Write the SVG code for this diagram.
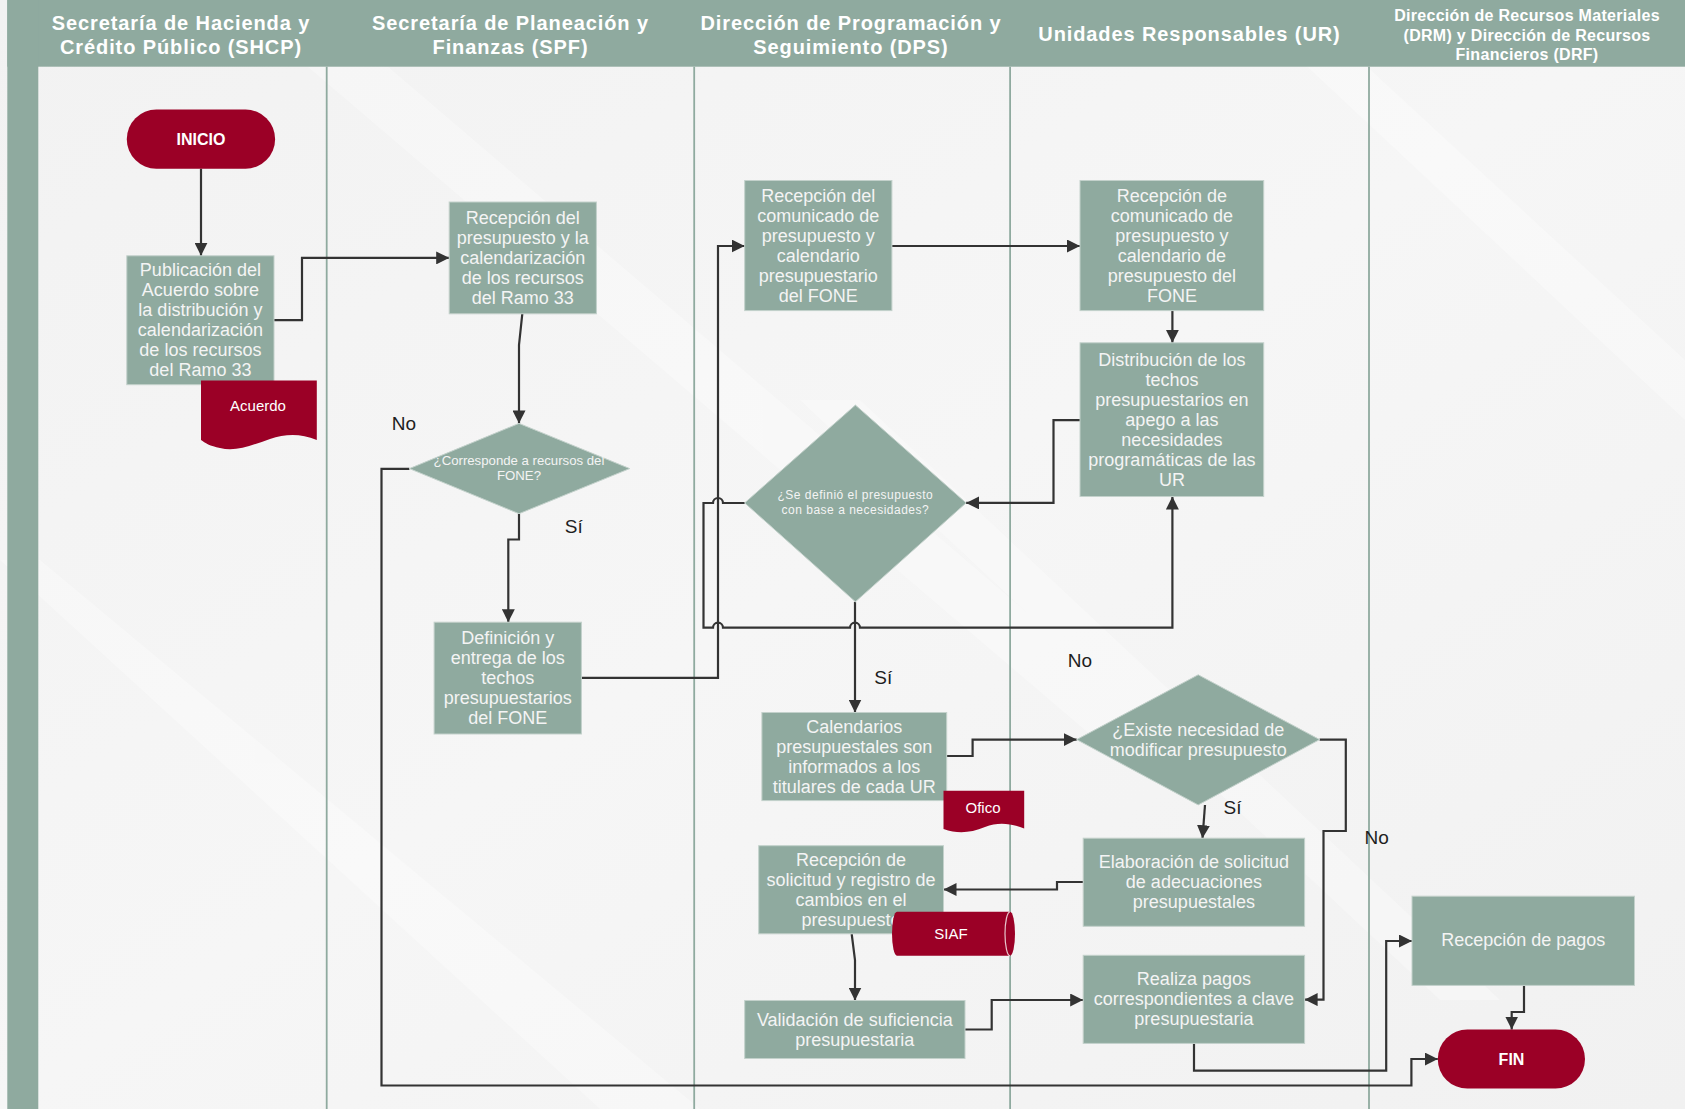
<svg xmlns="http://www.w3.org/2000/svg" width="1685" height="1109" viewBox="0 0 1685 1109">
<defs>
<marker id="ah" markerWidth="13" markerHeight="13" refX="13" refY="6.5" orient="auto" markerUnits="userSpaceOnUse"><path d="M0,0 L13,6.5 L0,13 Z" fill="#333"/></marker>
<linearGradient id="bg" x1="0" y1="0" x2="1" y2="1">
<stop offset="0" stop-color="#F2F2F2"/><stop offset="0.5" stop-color="#F6F6F6"/><stop offset="1" stop-color="#F1F1F1"/>
</linearGradient>
</defs>
<style>
.proc{fill:#8FAA9F;stroke:#C3D1CB;stroke-width:1}
.red{fill:#9B0026}
.t{font-family:"Liberation Sans",Arial,sans-serif;font-size:18px;fill:#F4F4F4;text-anchor:middle;dominant-baseline:central}
.ts{font-family:"Liberation Sans",Arial,sans-serif;font-size:12px;fill:#F4F4F4;text-anchor:middle;dominant-baseline:central}
.tw{font-family:"Liberation Sans",Arial,sans-serif;font-size:15px;fill:#FFFFFF;text-anchor:middle;dominant-baseline:central}
.tb{font-family:"Liberation Sans",Arial,sans-serif;font-size:16px;font-weight:bold;fill:#FFFFFF;text-anchor:middle;dominant-baseline:central}
.hd{font-family:"Liberation Sans",Arial,sans-serif;font-weight:bold;font-size:20px;fill:#FFFFFF;text-anchor:middle;dominant-baseline:central;letter-spacing:0.9px}
.hd5{font-family:"Liberation Sans",Arial,sans-serif;font-weight:bold;font-size:16px;fill:#FFFFFF;text-anchor:middle;dominant-baseline:central;letter-spacing:0.3px}
.lbl{font-family:"Liberation Sans",Arial,sans-serif;font-size:19px;fill:#1E1E1E;text-anchor:middle;dominant-baseline:central}
.conn{fill:none;stroke:#333;stroke-width:2.2}
.lane{stroke:#8FAA9F;stroke-width:1.8}
</style>

<!-- background -->
<rect x="0" y="0" width="1685" height="1109" fill="url(#bg)"/>
<g opacity="0.3" fill="#FFFFFF">
<polygon points="0,560 40,560 700,1109 600,1109"/>
<polygon points="300,60 380,60 1200,760 1120,760"/>
<polygon points="800,400 860,400 1500,1000 1440,1000"/>
<polygon points="1300,60 1360,60 1685,360 1685,420"/>
</g>

<!-- header and lanes -->
<g id="lanes">
<rect x="7.3" y="0" width="1677.7" height="66.7" fill="#8FAA9F"/>
<rect x="7.3" y="0" width="31" height="1109" fill="#8FAA9F"/>
<line class="lane" x1="326.7" y1="66.7" x2="326.7" y2="1109"/>
<line class="lane" x1="694.2" y1="66.7" x2="694.2" y2="1109"/>
<line class="lane" x1="1010.1" y1="66.7" x2="1010.1" y2="1109"/>
<line class="lane" x1="1369" y1="66.7" x2="1369" y2="1109"/>
<text class="hd" x="181" y="22.6">Secretaría de Hacienda y</text>
<text class="hd" x="181" y="47.3">Crédito Público (SHCP)</text>
<text class="hd" x="510.5" y="22.6">Secretaría de Planeación y</text>
<text class="hd" x="510.5" y="47.3">Finanzas (SPF)</text>
<text class="hd" x="851" y="22.6">Dirección de Programación y</text>
<text class="hd" x="851" y="47.3">Seguimiento (DPS)</text>
<text class="hd" x="1189.5" y="34.4">Unidades Responsables (UR)</text>
<text class="hd5" x="1527" y="15.5">Dirección de Recursos Materiales</text>
<text class="hd5" x="1527" y="35">(DRM) y Dirección de Recursos</text>
<text class="hd5" x="1527" y="54.5">Financieros (DRF)</text>
</g>

<!-- connectors -->
<g id="connectors">
<path class="conn" marker-end="url(#ah)" d="M201,168.7 V255.8"/>
<path class="conn" marker-end="url(#ah)" d="M274,320.2 H302 V257.9 H449.2"/>
<path class="conn" marker-end="url(#ah)" d="M522.3,313.8 L519,345 V423.4"/>
<path class="conn" marker-end="url(#ah)" d="M519,513.7 V539.5 H508.3 V622.2"/>
<path class="conn" marker-end="url(#ah)" d="M409.4,468.8 H381.5 V1085.5 H1411.4 V1059 H1437.8"/>
<path class="conn" marker-end="url(#ah)" d="M581.4,677.8 H718 V246 H744.7"/>
<path class="conn" marker-end="url(#ah)" d="M744.7,503 H723 A5,5 0 0 0 713,503 H703.5 V627.7 H713 A5,5 0 0 1 723,627.7 H850 A5,5 0 0 1 860,627.7 H1172.4 V496.5"/>
<path class="conn" marker-end="url(#ah)" d="M855,601.8 V712.5"/>
<path class="conn" marker-end="url(#ah)" d="M891.9,246 H1080"/>
<path class="conn" marker-end="url(#ah)" d="M1172.4,310.6 V342.8"/>
<path class="conn" marker-end="url(#ah)" d="M1080,420.2 H1053.5 V502.9 H966.1"/>
<path class="conn" marker-end="url(#ah)" d="M946.7,756 H972.6 V739.6 H1076.7"/>
<path class="conn" marker-end="url(#ah)" d="M1205,805 L1202.5,838.2"/>
<path class="conn" marker-end="url(#ah)" d="M1319.6,739.6 H1345.8 V831 H1323.5 V999.6 H1304.6"/>
<path class="conn" marker-end="url(#ah)" d="M1083.2,882 H1057 V889.5 H943.5"/>
<path class="conn" marker-end="url(#ah)" d="M851.7,934 L855,960 V1000.5"/>
<path class="conn" marker-end="url(#ah)" d="M965,1029.5 H991.7 V1000 H1083.2"/>
<path class="conn" marker-end="url(#ah)" d="M1194,1043.4 V1070.7 H1386.2 V941 H1412"/>
<path class="conn" marker-end="url(#ah)" d="M1524,985.4 V1012 H1511.7 V1029.5"/>
</g>

<!-- labels -->
<g id="labels">
<text class="lbl" x="404" y="423.4">No</text>
<text class="lbl" x="573.8" y="526.6">Sí</text>
<text class="lbl" x="883.3" y="677">Sí</text>
<text class="lbl" x="1080" y="660.9">No</text>
<text class="lbl" x="1232.6" y="807">Sí</text>
<text class="lbl" x="1376.6" y="837.1">No</text>
</g>

<g id="inicio">
<rect class="red" x="126.8" y="109.6" width="148.3" height="59.1" rx="29.5"/>
<text class="tb" x="201" y="139.2">INICIO</text>
</g>

<g id="publicacion">
<rect class="proc" x="126.8" y="255.8" width="147.2" height="128.9"/>
<text class="t" x="200.4" y="270">Publicación del</text>
<text class="t" x="200.4" y="290">Acuerdo sobre</text>
<text class="t" x="200.4" y="310">la distribución y</text>
<text class="t" x="200.4" y="330">calendarización</text>
<text class="t" x="200.4" y="350">de los recursos</text>
<text class="t" x="200.4" y="370">del Ramo 33</text>
</g>

<g id="acuerdo">
<path class="red" d="M201,380.4 H316.8 V440 C300,433 285,434 270,439 C250,446 235,452 220,448 C210,446 205,443 201,440 Z"/>
<text class="tw" x="258" y="405">Acuerdo</text>
</g>

<g id="recepcion-presupuesto">
<rect class="proc" x="449.2" y="202" width="147.2" height="111.8"/>
<text class="t" x="522.8" y="217.9">Recepción del</text>
<text class="t" x="522.8" y="237.9">presupuesto y la</text>
<text class="t" x="522.8" y="257.9">calendarización</text>
<text class="t" x="522.8" y="277.9">de los recursos</text>
<text class="t" x="522.8" y="297.9">del Ramo 33</text>
</g>

<g id="corresponde">
<polygon class="proc" points="519,423.4 629.7,468.6 519,513.7 409.4,468.6"/>
<text class="ts" x="519" y="460.5" style="font-size:13.2px">¿Corresponde a recursos del</text>
<text class="ts" x="519" y="475.5" style="font-size:13.2px">FONE?</text>
</g>

<g id="definicion">
<rect class="proc" x="434.1" y="622.2" width="147.3" height="111.8"/>
<text class="t" x="507.7" y="638">Definición y</text>
<text class="t" x="507.7" y="658">entrega de los</text>
<text class="t" x="507.7" y="678">techos</text>
<text class="t" x="507.7" y="698">presupuestarios</text>
<text class="t" x="507.7" y="718">del FONE</text>
</g>

<g id="recepcion-comunicado-dps">
<rect class="proc" x="744.7" y="180.5" width="147.2" height="130.1"/>
<text class="t" x="818.3" y="195.5">Recepción del</text>
<text class="t" x="818.3" y="215.5">comunicado de</text>
<text class="t" x="818.3" y="235.5">presupuesto y</text>
<text class="t" x="818.3" y="255.5">calendario</text>
<text class="t" x="818.3" y="275.5">presupuestario</text>
<text class="t" x="818.3" y="295.5">del FONE</text>
</g>

<g id="recepcion-comunicado-ur">
<rect class="proc" x="1080" y="180.5" width="183.7" height="130.1"/>
<text class="t" x="1171.9" y="195.5">Recepción de</text>
<text class="t" x="1171.9" y="215.5">comunicado de</text>
<text class="t" x="1171.9" y="235.5">presupuesto y</text>
<text class="t" x="1171.9" y="255.5">calendario de</text>
<text class="t" x="1171.9" y="275.5">presupuesto del</text>
<text class="t" x="1171.9" y="295.5">FONE</text>
</g>

<g id="distribucion">
<rect class="proc" x="1080" y="342.8" width="183.7" height="153.7"/>
<text class="t" x="1171.9" y="359.6">Distribución de los</text>
<text class="t" x="1171.9" y="379.6">techos</text>
<text class="t" x="1171.9" y="399.6">presupuestarios en</text>
<text class="t" x="1171.9" y="419.6">apego a las</text>
<text class="t" x="1171.9" y="439.6">necesidades</text>
<text class="t" x="1171.9" y="459.6">programáticas de las</text>
<text class="t" x="1171.9" y="479.6">UR</text>
</g>

<g id="se-definio">
<polygon class="proc" points="855.4,405.1 966.1,502.9 855.4,601.8 744.7,502.9"/>
<text class="ts" x="855.4" y="495.4" style="letter-spacing:0.5px">¿Se definió el presupuesto</text>
<text class="ts" x="855.4" y="510.4" style="letter-spacing:0.5px">con base a necesidades?</text>
</g>

<g id="calendarios">
<rect class="proc" x="761.9" y="712.5" width="184.8" height="88.1"/>
<text class="t" x="854.3" y="726.5">Calendarios</text>
<text class="t" x="854.3" y="746.5">presupuestales son</text>
<text class="t" x="854.3" y="766.5">informados a los</text>
<text class="t" x="854.3" y="786.5">titulares de cada UR</text>
</g>

<g id="oficio">
<path class="red" d="M943.5,790.8 H1024.2 V828.5 C1010,823 998,822 985,827 C970,833 958,834 943.5,829 Z"/>
<text class="tw" x="983" y="807.5">Ofico</text>
</g>

<g id="existe">
<polygon class="proc" points="1198.2,674.8 1319.6,739.6 1198.2,804.9 1076.7,739.6"/>
<text class="t" x="1198.2" y="730">¿Existe necesidad de</text>
<text class="t" x="1198.2" y="750">modificar presupuesto</text>
</g>

<g id="elaboracion">
<rect class="proc" x="1083.2" y="838.2" width="221.4" height="88.1"/>
<text class="t" x="1193.9" y="862.3">Elaboración de solicitud</text>
<text class="t" x="1193.9" y="882.3">de adecuaciones</text>
<text class="t" x="1193.9" y="902.3">presupuestales</text>
</g>

<g id="recepcion-solicitud">
<rect class="proc" x="758.7" y="845.7" width="184.8" height="88.1"/>
<text class="t" x="851.1" y="860">Recepción de</text>
<text class="t" x="851.1" y="880">solicitud y registro de</text>
<text class="t" x="851.1" y="900">cambios en el</text>
<text class="t" x="851.1" y="920">presupuesto</text>
</g>

<g id="siaf">
<path class="red" d="M897,911.8 H1010 A5,22 0 0 1 1010,955.8 H897 A5,22 0 0 1 897,911.8 Z"/>
<path d="M1010,911.8 A5,22 0 0 0 1010,955.8" fill="none" stroke="#E8C6CD" stroke-width="1.2"/>
<text class="tw" x="951" y="933.8">SIAF</text>
</g>

<g id="validacion">
<rect class="proc" x="744.7" y="1000.5" width="220.3" height="58"/>
<text class="t" x="854.8" y="1019.5">Validación de suficiencia</text>
<text class="t" x="854.8" y="1039.5">presupuestaria</text>
</g>

<g id="realiza-pagos">
<rect class="proc" x="1083.2" y="955.3" width="221.4" height="88.1"/>
<text class="t" x="1193.9" y="979.4">Realiza pagos</text>
<text class="t" x="1193.9" y="999.4">correspondientes a clave</text>
<text class="t" x="1193.9" y="1019.4">presupuestaria</text>
</g>

<g id="recepcion-pagos">
<rect class="proc" x="1412" y="896.2" width="222.5" height="89.2"/>
<text class="t" x="1523.3" y="940.3">Recepción de pagos</text>
</g>

<g id="fin">
<rect class="red" x="1437.8" y="1029.5" width="147.2" height="59.1" rx="29.5"/>
<text class="tb" x="1511.5" y="1059">FIN</text>
</g>
</svg>
